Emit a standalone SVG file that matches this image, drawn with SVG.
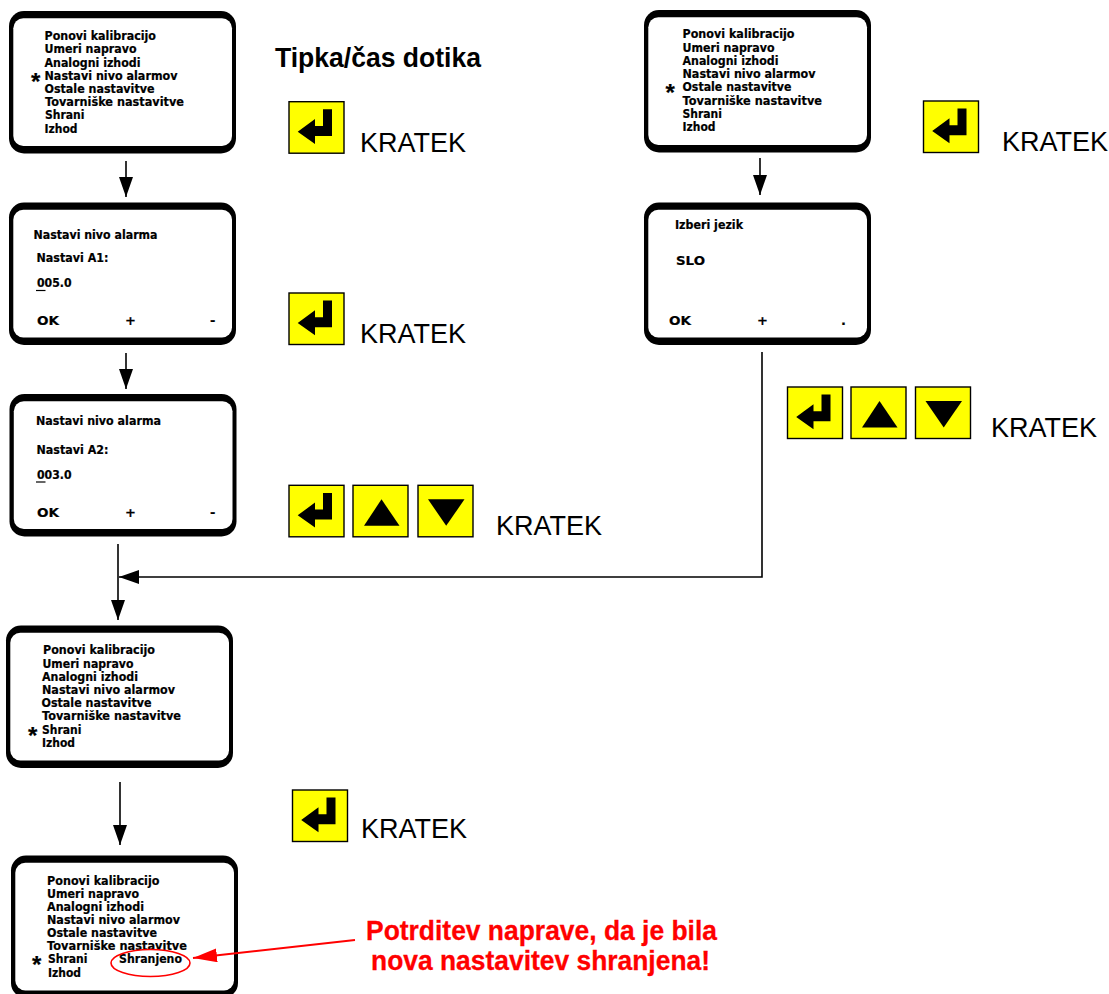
<svg xmlns="http://www.w3.org/2000/svg" xmlns:xlink="http://www.w3.org/1999/xlink" width="1109" height="994" viewBox="0 0 1109 994">
<style>
text{font-family:"DejaVu Sans",Verdana,sans-serif;font-weight:700;font-size:11.500px;fill:#000;stroke:#000;stroke-width:.2}
.ast{font-family:"Liberation Sans",Arial,sans-serif;font-size:24px}
.kr{font-family:"Liberation Sans",Arial,sans-serif;font-size:27px;font-weight:400;stroke:none}
.title{font-family:"Liberation Sans",Arial,sans-serif;font-size:27px;stroke:none}
.red{font-family:"Liberation Sans",Arial,sans-serif;font-size:27px;fill:#f00;stroke:#f00;stroke-width:.3}
.ok{font-size:13px}
.line{fill:none;stroke:#000;stroke-width:1.6}
.rline{fill:none;stroke:#f00;stroke-width:1.8}
.key{fill:#ff0;stroke:#000;stroke-width:1.4}
</style>
<defs>
<marker id="ah" markerUnits="userSpaceOnUse" markerWidth="22" markerHeight="16" refX="20" refY="7" orient="auto"><path d="M0 0L20 7L0 14Z" fill="#000"/></marker>
<marker id="rah" markerUnits="userSpaceOnUse" markerWidth="26" markerHeight="16" refX="24" refY="7" orient="auto"><path d="M0 0L24 7L0 14Z" fill="#f00"/></marker>
<g id="screen"><rect x="0" y="0" width="227" height="142.500" rx="15" fill="#000"/><rect x="4.300" y="7.300" width="218.700" height="127.700" rx="10" fill="#fff"/></g>
<g id="kenter"><rect class="key" x="0" y="0" width="55" height="51.500"/><path d="M8.700 30L26 17.300V24.300H34V7.600H43V34.300H26V42.300Z" fill="#000"/></g>
<g id="kup"><rect class="key" x="0" y="0" width="55" height="51.500"/><path d="M28.500 14L46.500 40.500H11Z" fill="#000"/></g>
<g id="kdown"><rect class="key" x="0" y="0" width="55" height="51.500"/><path d="M10 14H46.500L28.200 40.500Z" fill="#000"/></g>
</defs>
<rect width="1109" height="994" fill="#fff"/>
<g id="screen1"><use href="#screen" x="9" y="11"/>
<text x="44.500" y="40" textLength="111.500" lengthAdjust="spacingAndGlyphs">Ponovi kalibracijo</text>
<text x="44.500" y="53" textLength="92" lengthAdjust="spacingAndGlyphs">Umeri napravo</text>
<text x="44.500" y="66.500" textLength="96" lengthAdjust="spacingAndGlyphs">Analogni izhodi</text>
<text class="ast" x="31" y="90">*</text>
<text x="44.500" y="80" textLength="133" lengthAdjust="spacingAndGlyphs">Nastavi nivo alarmov</text>
<text x="44.500" y="93" textLength="110" lengthAdjust="spacingAndGlyphs">Ostale nastavitve</text>
<text x="45" y="106" textLength="139" lengthAdjust="spacingAndGlyphs">Tovarniške nastavitve</text>
<text x="45" y="119" textLength="39.500" lengthAdjust="spacingAndGlyphs">Shrani</text>
<text x="44.500" y="133" textLength="33" lengthAdjust="spacingAndGlyphs">Izhod</text>
</g>
<g id="screen2"><use href="#screen" x="9" y="202.500"/>
<text x="33.500" y="239" textLength="124" lengthAdjust="spacingAndGlyphs">Nastavi nivo alarma</text>
<text x="36.500" y="262" textLength="72" lengthAdjust="spacingAndGlyphs">Nastavi A1:</text>
<text x="37" y="287" textLength="34.500" lengthAdjust="spacingAndGlyphs">005.0</text>
<path d="M36 290.500H45.500" stroke="#000" stroke-width="1.200"/>
<text class="ok" x="37" y="325" textLength="22" lengthAdjust="spacingAndGlyphs">OK</text>
<text class="ok" x="125" y="325">+</text>
<text class="ok" x="210" y="325">-</text>
</g>
<g id="screen3"><use href="#screen" x="9.500" y="394"/>
<text x="36" y="425" textLength="125" lengthAdjust="spacingAndGlyphs">Nastavi nivo alarma</text>
<text x="36.500" y="454" textLength="72" lengthAdjust="spacingAndGlyphs">Nastavi A2:</text>
<text x="37" y="479" textLength="34.500" lengthAdjust="spacingAndGlyphs">003.0</text>
<path d="M36 482H45.500" stroke="#000" stroke-width="1.200"/>
<text class="ok" x="37" y="517" textLength="22" lengthAdjust="spacingAndGlyphs">OK</text>
<text class="ok" x="125" y="517">+</text>
<text class="ok" x="210" y="517">-</text>
</g>
<g id="screen4"><use href="#screen" x="6" y="625.500"/>
<text x="43" y="654" textLength="112" lengthAdjust="spacingAndGlyphs">Ponovi kalibracijo</text>
<text x="42.500" y="668" textLength="91" lengthAdjust="spacingAndGlyphs">Umeri napravo</text>
<text x="42" y="681" textLength="96" lengthAdjust="spacingAndGlyphs">Analogni izhodi</text>
<text x="42" y="694" textLength="133" lengthAdjust="spacingAndGlyphs">Nastavi nivo alarmov</text>
<text x="41.500" y="707" textLength="110" lengthAdjust="spacingAndGlyphs">Ostale nastavitve</text>
<text x="42" y="720" textLength="139" lengthAdjust="spacingAndGlyphs">Tovarniške nastavitve</text>
<text class="ast" x="28" y="744">*</text>
<text x="42" y="734" textLength="39.500" lengthAdjust="spacingAndGlyphs">Shrani</text>
<text x="42" y="747" textLength="33" lengthAdjust="spacingAndGlyphs">Izhod</text>
</g>
<g id="screen5"><use href="#screen" x="11" y="855.500"/>
<text x="47" y="884.500" textLength="112.500" lengthAdjust="spacingAndGlyphs">Ponovi kalibracijo</text>
<text x="47" y="897.500" textLength="92" lengthAdjust="spacingAndGlyphs">Umeri napravo</text>
<text x="47" y="910.500" textLength="97" lengthAdjust="spacingAndGlyphs">Analogni izhodi</text>
<text x="47" y="924" textLength="133" lengthAdjust="spacingAndGlyphs">Nastavi nivo alarmov</text>
<text x="47" y="937" textLength="110" lengthAdjust="spacingAndGlyphs">Ostale nastavitve</text>
<text x="47" y="950" textLength="140" lengthAdjust="spacingAndGlyphs">Tovarniške nastavitve</text>
<text class="ast" x="32" y="973">*</text>
<text x="48" y="963" textLength="39.500" lengthAdjust="spacingAndGlyphs">Shrani</text>
<text x="48" y="976.500" textLength="33" lengthAdjust="spacingAndGlyphs">Izhod</text>
<text x="119" y="963" textLength="63" lengthAdjust="spacingAndGlyphs">Shranjeno</text>
<ellipse cx="150.500" cy="963" rx="39.500" ry="13.500" fill="none" stroke="#f00" stroke-width="1.600"/>
</g>
<g id="screen6"><use href="#screen" x="644" y="10"/>
<text x="682.500" y="38" textLength="112" lengthAdjust="spacingAndGlyphs">Ponovi kalibracijo</text>
<text x="682.500" y="52" textLength="92" lengthAdjust="spacingAndGlyphs">Umeri napravo</text>
<text x="682.500" y="65" textLength="96" lengthAdjust="spacingAndGlyphs">Analogni izhodi</text>
<text x="682.500" y="78" textLength="133" lengthAdjust="spacingAndGlyphs">Nastavi nivo alarmov</text>
<text class="ast" x="665.500" y="101">*</text>
<text x="682.500" y="91" textLength="109" lengthAdjust="spacingAndGlyphs">Ostale nastavitve</text>
<text x="682.500" y="104.500" textLength="139.500" lengthAdjust="spacingAndGlyphs">Tovarniške nastavitve</text>
<text x="682.500" y="118" textLength="39.500" lengthAdjust="spacingAndGlyphs">Shrani</text>
<text x="682.500" y="131" textLength="33" lengthAdjust="spacingAndGlyphs">Izhod</text>
</g>
<g id="screen7"><use href="#screen" x="644" y="202.500"/>
<text x="675" y="229" textLength="68" lengthAdjust="spacingAndGlyphs">Izberi jezik</text>
<text class="ok" x="676" y="265" textLength="29" lengthAdjust="spacingAndGlyphs">SLO</text>
<text class="ok" x="669" y="325" textLength="22" lengthAdjust="spacingAndGlyphs">OK</text>
<text class="ok" x="757" y="325">+</text>
<text class="ok" x="841" y="325">.</text>
</g>
<g id="connectors">
<path class="line" d="M126 161V197" marker-end="url(#ah)"/>
<path class="line" d="M126 353V389" marker-end="url(#ah)"/>
<path class="line" d="M118 544V620" marker-end="url(#ah)"/>
<path class="line" d="M762 352V577H119" marker-end="url(#ah)"/>
<path class="line" d="M760 158V195" marker-end="url(#ah)"/>
<path class="line" d="M120 782V845" marker-end="url(#ah)"/>
<path class="rline" d="M355 940L193 958" marker-end="url(#rah)"/>
</g>
<g id="title"><text class="title" x="275" y="66.700" textLength="206" lengthAdjust="spacingAndGlyphs">Tipka/čas dotika</text></g>
<g id="keys1"><use href="#kenter" x="289" y="101.700"/><text class="kr" x="360" y="151.500" textLength="106" lengthAdjust="spacingAndGlyphs">KRATEK</text></g>
<g id="keys2"><use href="#kenter" x="289" y="293"/><text class="kr" x="360" y="343" textLength="106" lengthAdjust="spacingAndGlyphs">KRATEK</text></g>
<g id="keys3"><use href="#kenter" x="289" y="485.300"/><use href="#kup" x="353" y="485.300"/><use href="#kdown" x="418" y="485.300"/><text class="kr" x="496" y="535" textLength="106" lengthAdjust="spacingAndGlyphs">KRATEK</text></g>
<g id="keys4"><use href="#kenter" x="292.500" y="790"/><text class="kr" x="361" y="837.500" textLength="106" lengthAdjust="spacingAndGlyphs">KRATEK</text></g>
<g id="keys5"><use href="#kenter" x="923.500" y="101"/><text class="kr" x="1002" y="151" textLength="106" lengthAdjust="spacingAndGlyphs">KRATEK</text></g>
<g id="keys6"><use href="#kenter" x="787.500" y="387"/><use href="#kup" x="851" y="387"/><use href="#kdown" x="915.500" y="387"/><text class="kr" x="991" y="437" textLength="106" lengthAdjust="spacingAndGlyphs">KRATEK</text></g>
<g id="note">
<text class="red" x="366" y="940" textLength="351" lengthAdjust="spacingAndGlyphs">Potrditev naprave, da je bila</text>
<text class="red" x="371" y="970" textLength="339" lengthAdjust="spacingAndGlyphs">nova nastavitev shranjena!</text>
</g>
</svg>
